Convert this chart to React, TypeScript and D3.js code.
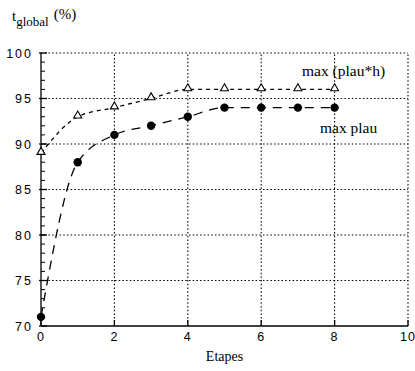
import * as d3 from "d3";
import { useEffect, useRef } from "react";

const WIDTH = 415;
const HEIGHT = 371;
const MARGIN = { top: 53, right: 6, bottom: 45, left: 41 };

const etapes = [0, 1, 2, 3, 4, 5, 6, 7, 8];
const maxPlauH = [89, 93, 94, 95, 96, 96, 96, 96, 96];
const maxPlau = [71, 88, 91, 92, 93, 94, 94, 94, 94];
const xTicks = [0, 2, 4, 6, 8, 10];
const yTicks = [70, 75, 80, 85, 90, 95, 100];

export default function App() {
  const ref = useRef<SVGSVGElement>(null);

  useEffect(() => {
    const svg = d3.select(ref.current);
    svg.selectAll("*").remove();

    const x = d3
      .scaleLinear()
      .domain([0, 10])
      .range([MARGIN.left, WIDTH - MARGIN.right - 1]);
    const y = d3
      .scaleLinear()
      .domain([70, 100])
      .range([HEIGHT - MARGIN.bottom, MARGIN.top]);

    const sans = "Liberation Sans, Arial, sans-serif";
    const serif = "Liberation Serif, Times New Roman, serif";

    // grille pointillée
    const grid = svg.append("g").attr("stroke", "#000").attr("stroke-width", 1.1).attr("stroke-dasharray", "1.5,2.2");
    grid
      .selectAll("line.h")
      .data(yTicks.filter((t) => t > 70))
      .join("line")
      .attr("x1", x(0))
      .attr("x2", x(10))
      .attr("y1", (d) => y(d))
      .attr("y2", (d) => y(d));
    grid
      .selectAll("line.v")
      .data(xTicks.filter((t) => t > 0))
      .join("line")
      .attr("x1", (d) => x(d))
      .attr("x2", (d) => x(d))
      .attr("y1", y(70))
      .attr("y2", y(100));

    // axes en trait plein + petits ticks
    const axes = svg.append("g").attr("stroke", "#000").attr("stroke-width", 1.3);
    axes.append("line").attr("x1", x(0)).attr("x2", x(0)).attr("y1", y(70)).attr("y2", y(100));
    axes.append("line").attr("x1", x(0)).attr("x2", x(10)).attr("y1", y(70)).attr("y2", y(70));
    axes
      .selectAll("line.my")
      .data(d3.range(71, 100))
      .join("line")
      .attr("stroke-width", 1)
      .attr("x1", x(0))
      .attr("x2", x(0) + 4)
      .attr("y1", (d) => y(d))
      .attr("y2", (d) => y(d));
    axes
      .selectAll("line.ty")
      .data(yTicks)
      .join("line")
      .attr("x1", x(0) - 2)
      .attr("x2", x(0) + 6)
      .attr("y1", (d) => y(d))
      .attr("y2", (d) => y(d));
    axes
      .selectAll("line.tx")
      .data(xTicks)
      .join("line")
      .attr("x1", (d) => x(d))
      .attr("x2", (d) => x(d))
      .attr("y1", y(70))
      .attr("y2", y(70) - 6);

    svg
      .append("g")
      .selectAll("text")
      .data(yTicks)
      .join("text")
      .attr("x", x(0) - 8)
      .attr("y", (d) => y(d) + 4.5)
      .attr("text-anchor", "end")
      .attr("font-family", sans)
      .attr("font-size", 12.5)
      .attr("letter-spacing", 2)
      .text((d) => d);

    svg
      .append("g")
      .selectAll("text")
      .data(xTicks)
      .join("text")
      .attr("x", (d) => x(d))
      .attr("y", y(70) + 15)
      .attr("text-anchor", "middle")
      .attr("font-family", sans)
      .attr("font-size", 12.5)
      .attr("letter-spacing", 1)
      .text((d) => d);

    svg
      .append("text")
      .attr("x", x(5))
      .attr("y", 361)
      .attr("text-anchor", "middle")
      .attr("font-family", serif)
      .attr("font-size", 14)
      .text("Etapes");

    const title = svg
      .append("text")
      .attr("x", 12)
      .attr("y", 21)
      .attr("font-family", serif)
      .attr("font-size", 15);
    title.append("tspan").text("t");
    title.append("tspan").attr("dy", 5).attr("font-size", 13).text("global");
    title.append("tspan").attr("dy", -7).attr("dx", 5).text("(%)");

    // courbes
    const line = d3
      .line<number>()
      .x((_, i) => x(etapes[i]))
      .y((d) => y(d))
      .curve(d3.curveMonotoneX);

    svg
      .append("path")
      .attr("d", line(maxPlauH))
      .attr("fill", "none")
      .attr("stroke", "#000")
      .attr("stroke-width", 1.3)
      .attr("stroke-dasharray", "4,4");

    svg
      .append("path")
      .attr("d", line(maxPlau))
      .attr("fill", "none")
      .attr("stroke", "#000")
      .attr("stroke-width", 1.3)
      .attr("stroke-dasharray", "9,7");

    const tri = d3.symbol().type(d3.symbolTriangle).size(28);
    svg
      .append("g")
      .selectAll("path")
      .data(maxPlauH)
      .join("path")
      .attr("d", tri)
      .attr("transform", (d, i) => `translate(${x(etapes[i])},${y(d) - 1})`)
      .attr("fill", "#fff")
      .attr("stroke", "#000")
      .attr("stroke-width", 1.1);

    svg
      .append("g")
      .selectAll("circle")
      .data(maxPlau)
      .join("circle")
      .attr("cx", (_, i) => x(etapes[i]))
      .attr("cy", (d) => y(d))
      .attr("r", 4.2)
      .attr("fill", "#000");

    svg
      .append("text")
      .attr("x", 302)
      .attr("y", 76)
      .attr("font-family", serif)
      .attr("font-size", 15.5)
      .text("max (plau*h)");

    svg
      .append("text")
      .attr("x", 320)
      .attr("y", 133)
      .attr("font-family", serif)
      .attr("font-size", 15.5)
      .text("max plau");
  }, []);

  return (
    <svg
      ref={ref}
      width={WIDTH}
      height={HEIGHT}
      style={{ position: "absolute", left: 0, top: 0, background: "#fff" }}
    />
  );
}
